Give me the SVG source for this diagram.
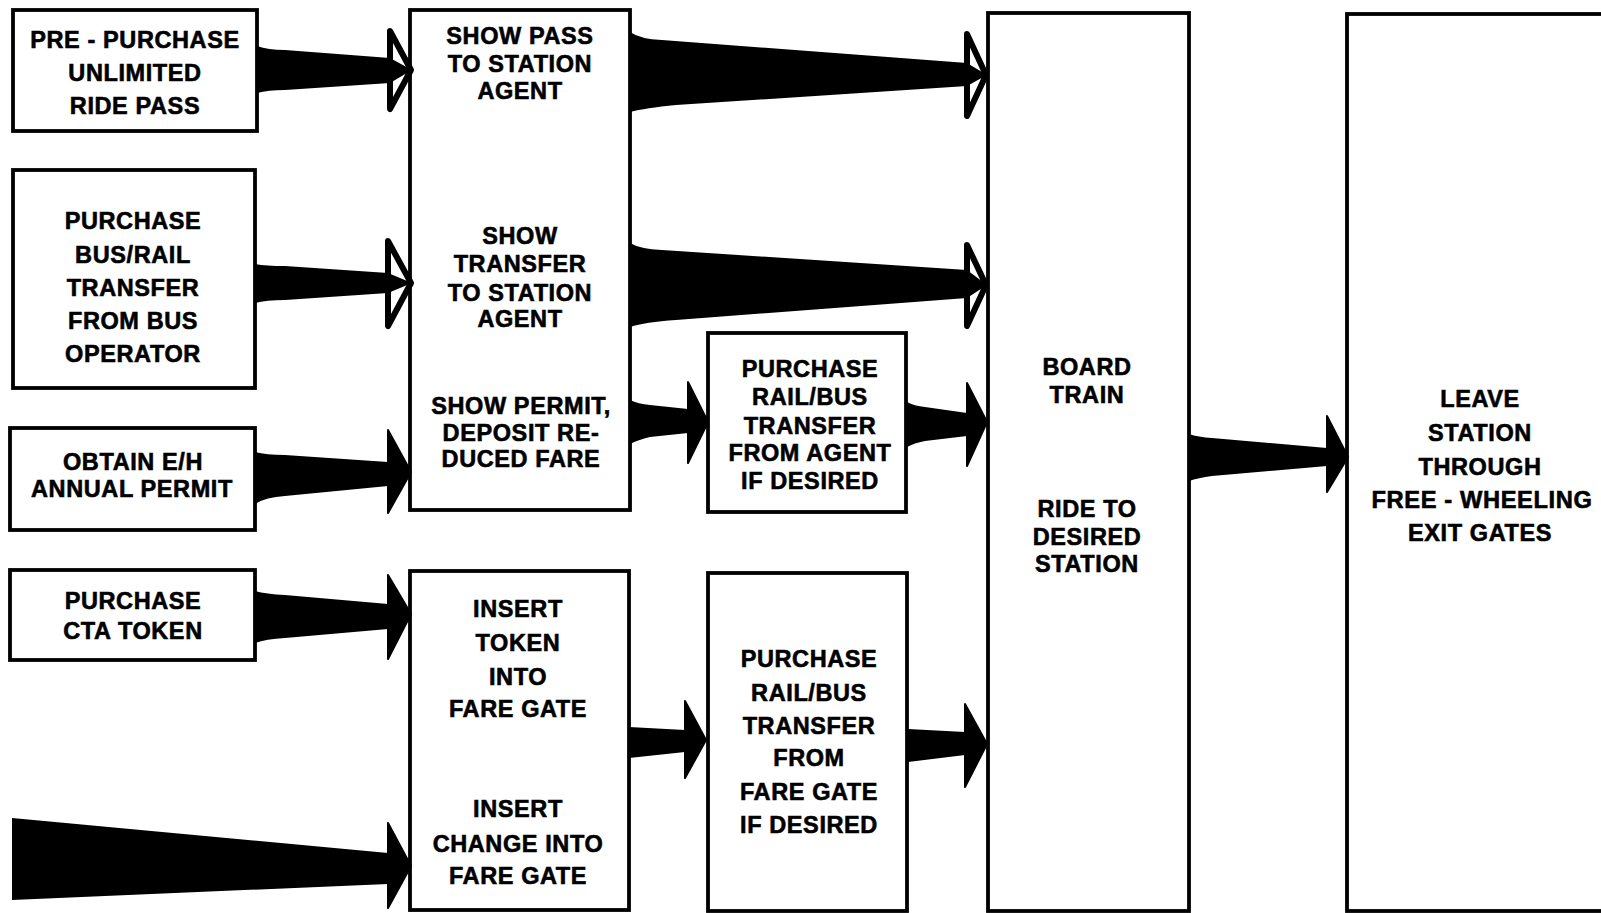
<svg xmlns="http://www.w3.org/2000/svg" width="1601" height="913" viewBox="0 0 1601 913">
<style>
.box{fill:#fff;stroke:#000;stroke-width:3.8}
.t{font-family:"Liberation Sans",Arial,sans-serif;font-weight:bold;font-size:23.5px;letter-spacing:0.6px;fill:#000;stroke:#000;stroke-width:0.6;text-anchor:middle}
.sh{fill:#000;stroke:none}
.ho{fill:#fff;stroke:#000;stroke-width:6;stroke-linejoin:round}
.hs{fill:#000;stroke:#000;stroke-width:2;stroke-linejoin:round}
</style>
<rect width="1601" height="913" fill="#fff"/>
<g id="n-prepurchase">
<rect class="box" x="13" y="10" width="244" height="121"/>
<text class="t"><tspan x="135" y="47.5">PRE - PURCHASE</tspan><tspan x="135" y="81">UNLIMITED</tspan><tspan x="135" y="113.5">RIDE PASS</tspan></text>
</g>
<g id="n-bustransfer">
<rect class="box" x="13" y="170" width="242" height="218"/>
<text class="t"><tspan x="133" y="229">PURCHASE</tspan><tspan x="133" y="262.5">BUS/RAIL</tspan><tspan x="133" y="295.5">TRANSFER</tspan><tspan x="133" y="329">FROM BUS</tspan><tspan x="133" y="361.5">OPERATOR</tspan></text>
</g>
<g id="n-permit">
<rect class="box" x="10" y="428" width="245" height="102"/>
<text class="t"><tspan x="133" y="470">OBTAIN E/H</tspan><tspan x="132" y="496.5">ANNUAL PERMIT</tspan></text>
</g>
<g id="n-token">
<rect class="box" x="10" y="570" width="245" height="90"/>
<text class="t"><tspan x="133" y="608.5">PURCHASE</tspan><tspan x="133" y="638.5">CTA TOKEN</tspan></text>
</g>
<g id="n-show">
<rect class="box" x="410" y="10" width="220" height="500"/>
<text class="t"><tspan x="520" y="43.5">SHOW PASS</tspan><tspan x="520" y="71.5">TO STATION</tspan><tspan x="520" y="98.5">AGENT</tspan></text>
<text class="t"><tspan x="520" y="243.5">SHOW</tspan><tspan x="520" y="271.5">TRANSFER</tspan><tspan x="520" y="300.5">TO STATION</tspan><tspan x="520" y="326.5">AGENT</tspan></text>
<text class="t"><tspan x="521" y="413.5">SHOW PERMIT,</tspan><tspan x="521" y="440.5">DEPOSIT RE-</tspan><tspan x="521" y="466.5">DUCED FARE</tspan></text>
</g>
<g id="n-insert">
<rect class="box" x="410" y="571" width="219" height="339"/>
<text class="t"><tspan x="518" y="616.5">INSERT</tspan><tspan x="518" y="650.5">TOKEN</tspan><tspan x="518" y="684.5">INTO</tspan><tspan x="518" y="716.5">FARE GATE</tspan></text>
<text class="t"><tspan x="518" y="816.5">INSERT</tspan><tspan x="518" y="851.5">CHANGE INTO</tspan><tspan x="518" y="883.5">FARE GATE</tspan></text>
</g>
<g id="n-agenttransfer">
<rect class="box" x="708" y="333" width="198" height="179"/>
<text class="t"><tspan x="810" y="376.5">PURCHASE</tspan><tspan x="810" y="404.5">RAIL/BUS</tspan><tspan x="810" y="433.5">TRANSFER</tspan><tspan x="810" y="460.5">FROM AGENT</tspan><tspan x="810" y="488.5">IF DESIRED</tspan></text>
</g>
<g id="n-gatetransfer">
<rect class="box" x="708" y="573" width="199" height="338"/>
<text class="t"><tspan x="809" y="667">PURCHASE</tspan><tspan x="809" y="700.5">RAIL/BUS</tspan><tspan x="809" y="733.5">TRANSFER</tspan><tspan x="809" y="766">FROM</tspan><tspan x="809" y="799.5">FARE GATE</tspan><tspan x="809" y="832.5">IF DESIRED</tspan></text>
</g>
<g id="n-board">
<rect class="box" x="988" y="13" width="201" height="898"/>
<text class="t"><tspan x="1087" y="375">BOARD</tspan><tspan x="1087" y="402.5">TRAIN</tspan></text>
<text class="t"><tspan x="1087" y="517">RIDE TO</tspan><tspan x="1087" y="544.5">DESIRED</tspan><tspan x="1087" y="572">STATION</tspan></text>
</g>
<g id="n-leave">
<rect class="box" x="1347" y="14" width="270" height="897"/>
<text class="t"><tspan x="1480" y="406.5">LEAVE</tspan><tspan x="1480" y="440.5">STATION</tspan><tspan x="1480" y="475">THROUGH</tspan></text>
<text class="t" x="1482" y="508" textLength="221" lengthAdjust="spacingAndGlyphs">FREE - WHEELING</text>
<text class="t" x="1480" y="540.5">EXIT GATES</text>
</g>
<g id="connectors">
<path class="ho" d="M390,31 L411,70 L390,109 Z"/>
<path class="sh" d="M257,46 Q268,50 285,50 L390,58 L412,70 L390,83 L285,90 Q268,90 257,93 Z"/>
<path class="ho" d="M388,241 L411,283 L388,326 Z"/>
<path class="sh" d="M255,264 Q266,266 285,266 L388,273 L412,283 L388,293 L285,300 Q266,300 255,303 Z"/>
<path class="hs" d="M388,430 L411,472 L388,513 Z"/>
<path class="sh" d="M255,452 Q266,455 285,455 L388,462 L411,472 L388,486 L285,496 Q266,497 255,504 Z"/>
<path class="hs" d="M388,575 L411,614 L388,659 Z"/>
<path class="sh" d="M255,591 Q266,594 285,595 L388,604 L411,614 L388,629 L285,638 Q266,639 255,643 Z"/>
<path class="hs" d="M388,823 L411,866 L388,908 Z"/>
<path class="sh" d="M12,818 L388,853 L411,866 L388,884 L12,900 Z"/>
<path class="ho" d="M967,34 L986,75 L967,116 Z"/>
<path class="sh" d="M630,32 Q640,39 662,40 L967,63 L987,75 L967,86 L676,105 Q645,108 630,112 Z"/>
<path class="ho" d="M967,245 L986,285 L967,326 Z"/>
<path class="sh" d="M630,243 Q640,249 662,250 L967,270 L987,285 L967,298 L676,320 Q645,322 630,327 Z"/>
<path class="hs" d="M688,382 L708,422 L688,463 Z"/>
<path class="sh" d="M630,400 Q638,404 650,405 L688,409 L708,422 L688,433 L650,437 Q638,440 630,444 Z"/>
<path class="hs" d="M967,383 L987,422 L967,466 Z"/>
<path class="sh" d="M907,402 Q914,406 925,407 L967,413 L987,422 L967,436 L925,441 Q914,443 907,447 Z"/>
<path class="hs" d="M685,701 L706,740 L685,778 Z"/>
<path class="sh" d="M629,727 L685,730 L706,740 L685,752 L629,758 Z"/>
<path class="hs" d="M965,704 L987,744 L965,787 Z"/>
<path class="sh" d="M908,729 L965,732 L987,744 L965,755 L908,762 Z"/>
<path class="hs" d="M1327,416 L1348,457 L1327,492 Z"/>
<path class="sh" d="M1189,434 Q1198,437 1212,438 L1327,448 L1348,457 L1327,466 L1212,476 Q1198,478 1189,481 Z"/>
</g>
</svg>
